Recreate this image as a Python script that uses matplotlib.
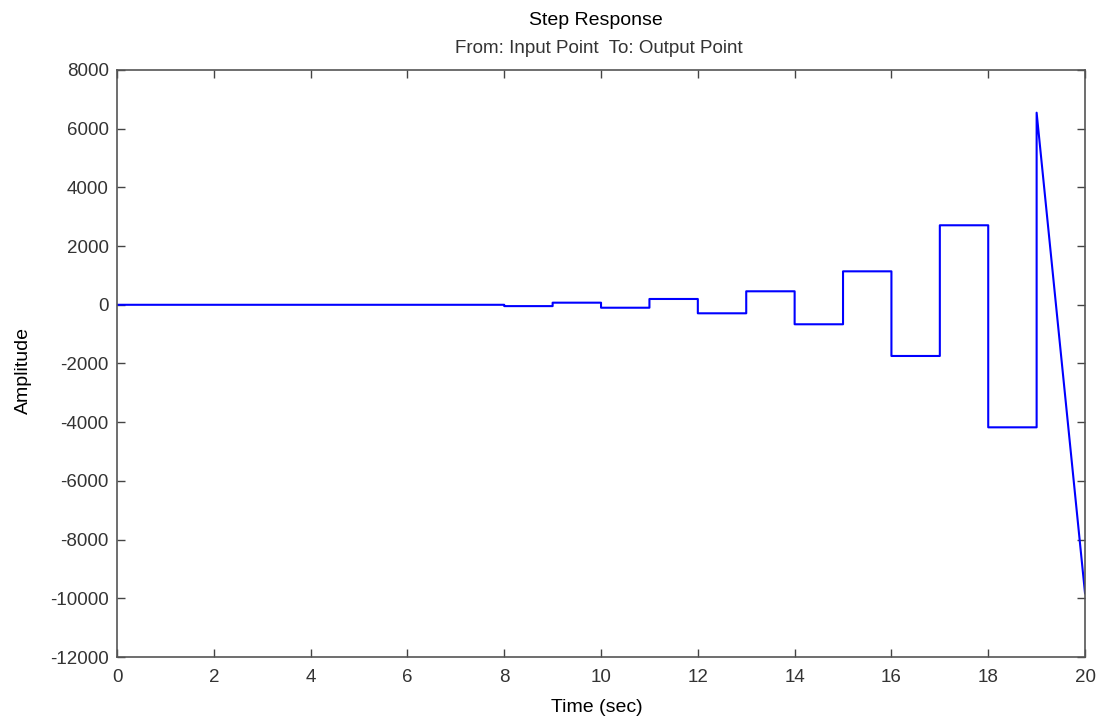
import matplotlib
matplotlib.use("Agg")
import matplotlib.pyplot as plt
import numpy as np

plt.rcParams['font.family'] = ['Liberation Sans', 'DejaVu Sans']
plt.rcParams['axes.unicode_minus'] = False

# step values held on each 1-second interval [t, t+1)
step_times = [0, 1, 2, 3, 4, 5, 6, 7, 8, 9, 10, 11, 12, 13, 14, 15, 16, 17, 18]
step_values = [0, 0, 0, 0, 0, 0, 0, 0, -45, 72, -100, 198, -290, 460, -664,
               1140, -1744, 2709, -4175]
# final segment (drawn as a ramp)
tail_times = [19, 20]
tail_values = [6545, -9830]

x_ticks = list(range(0, 21, 2))
y_ticks = list(range(-12000, 8001, 2000))

fig = plt.figure(figsize=(11.02, 7.2), dpi=100)
ax = fig.add_axes([0.1062, 0.0875, 0.8784, 0.8153])

xs = []
ys = []
for t, v in zip(step_times, step_values):
    xs += [t, t + 1]
    ys += [v, v]
xs += tail_times
ys += tail_values
ax.plot(xs, ys, color='#0000ff', linewidth=1.5)

ax.set_xlim(0, 20)
ax.set_ylim(-12000, 8000)
ax.set_xticks(x_ticks)
ax.set_yticks(y_ticks)
ax.tick_params(direction='in', top=True, right=True, length=6, width=1,
               labelsize=13.5, colors='#444444', labelcolor='#333333', pad=6)
ax.tick_params(axis='x', pad=9)
for s in ax.spines.values():
    s.set_color('#555555')
    s.set_linewidth(1.2)

fig.text(0.5417, 0.0167, 'Time (sec)', ha='center', va='center', fontsize=14)
fig.text(0.0215, 0.486, 'Amplitude', ha='center', va='center', fontsize=14,
         rotation=90)
fig.text(0.541, 0.972, 'Step Response', ha='center', va='center', fontsize=14)
fig.text(0.5435, 0.933, 'From: Input Point  To: Output Point', ha='center',
         va='center', fontsize=13.5, color='#333333')

fig.savefig('out.png', dpi=100)
